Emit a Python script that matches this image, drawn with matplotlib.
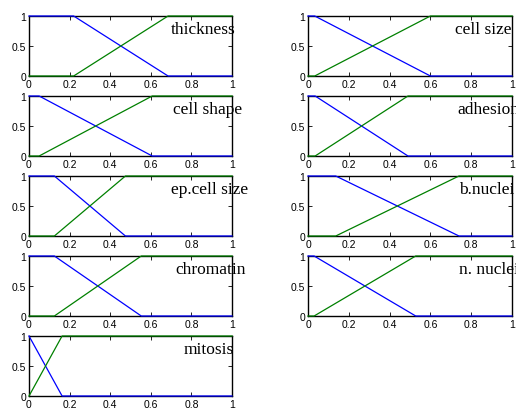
import matplotlib
matplotlib.use("Agg")
import matplotlib.pyplot as plt

names = ["thickness", "cell size", "cell shape", "adhesion", "ep.cell size",
         "b.nuclei", "chromatin", "n. nuclei", "mitosis"]
# breakpoints: membership of "low" falls from 1 at start to 0 at end; "high" rises
starts = [0.22, 0.033, 0.05, 0.035, 0.125, 0.136, 0.125, 0.03, 0.0]
ends = [0.685, 0.60, 0.607, 0.49, 0.475, 0.74, 0.553, 0.528, 0.163]
label_x = [0.70, 0.72, 0.71, 0.73, 0.70, 0.74, 0.72, 0.74, 0.76]
xticks = [0, 0.2, 0.4, 0.6, 0.8, 1]
xticklabels = ["0", "0.2", "0.4", "0.6", "0.8", "1"]
yticks = [0, 0.5, 1]
yticklabels = ["0", "0.5", "1"]

W, H = 516, 410
fig = plt.figure(figsize=(W / 100, H / 100), dpi=100)

col_left = [29, 308]
col_w = [203, 204]
row_top0 = 17
row_h = 60
row_step = 80

for i, name in enumerate(names):
    r, c = divmod(i, 2)
    top = row_top0 + r * row_step
    ax = fig.add_axes([col_left[c] / W, 1 - (top + row_h) / H, col_w[c] / W, row_h / H])
    a, b = starts[i], ends[i]
    ax.plot([0, a, b, 1], [1, 1, 0, 0], color=(0, 0, 1), lw=0.9, zorder=3, clip_on=False)
    ax.plot([0, a, b, 1], [0, 0, 1, 1], color=(0, 0.5, 0), lw=0.9, zorder=3, clip_on=False)
    ax.set_xlim(0, 1)
    ax.set_ylim(0, 1)
    ax.set_xticks(xticks)
    ax.set_xticklabels(xticklabels, family="Liberation Sans", fontsize=7.5)
    ax.set_yticks(yticks)
    ax.set_yticklabels(yticklabels, family="Liberation Sans", fontsize=7.5)
    ax.tick_params(direction="in", top=True, right=True, length=3, width=0.6,
                   pad=2)
    for s in ax.spines.values():
        s.set_linewidth(1.0)
    ax.text(label_x[i], 0.72, name, family="Liberation Serif", fontsize=12.5,
            transform=ax.transData, clip_on=False)

fig.savefig("out.png", dpi=100)
